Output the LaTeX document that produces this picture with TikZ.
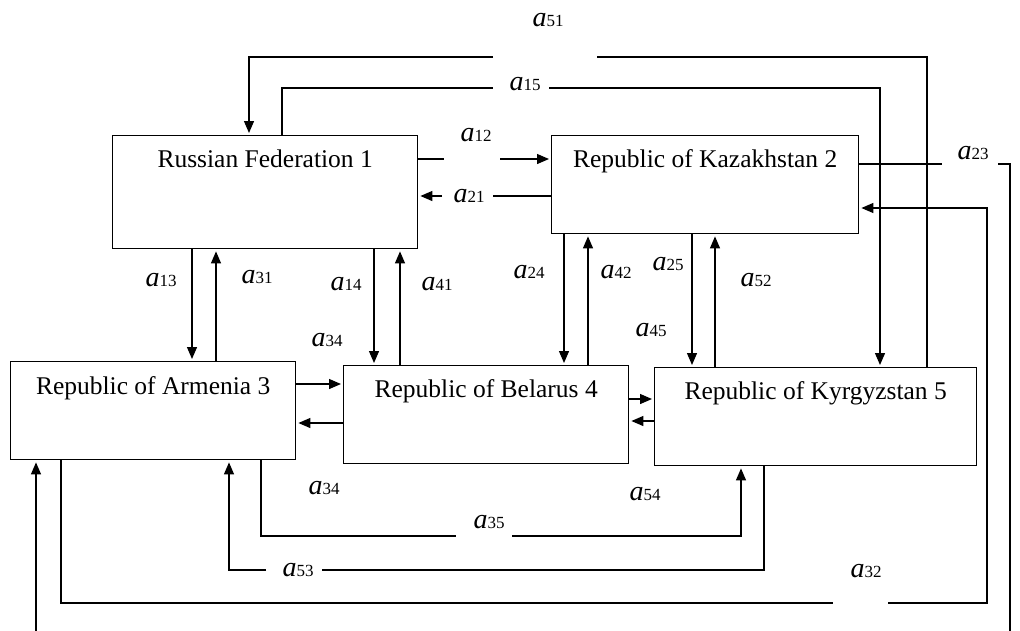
\documentclass[tikz,border=0pt]{standalone}
\usepackage{fontspec}
\setmainfont{Liberation Serif}
\usetikzlibrary{arrows.meta}

% coefficient a_{ij}
\newcommand{\acoef}[1]{{\fontsize{28}{32}\selectfont\itshape a}{\fontsize{17}{18}\selectfont #1}}

\tikzset{
    % Country block (text sits in the upper part)
    country/.style={
        rectangle,
        draw,
        line width=1.4pt,
        inner sep=0pt,
        anchor=north west,
        text height=32pt,
        font=\fontsize{25.5}{30}\selectfont
    },
    % Connector styles
    wire/.style={line width=1.3pt},
    flow/.style={wire, -{Triangle[length=12pt, width=10pt]}, shorten >=2pt},
    % Coefficient labels
    coef/.style={inner sep=0pt}
}

\begin{document}
\begin{tikzpicture}[x=1pt, y=-1pt]

    \useasboundingbox (0,0) rectangle (1020,630);

    % --- COUNTRIES ---
    \node (RF) [country, minimum width=305pt, text depth=81pt] at (112,135) {Russian Federation 1};
    \node (KZ) [country, minimum width=307pt, text depth=66pt] at (551,135) {Republic of Kazakhstan 2};
    \node (AM) [country, minimum width=285pt, text depth=65pt, text height=33pt] at (10,361) {Republic of Armenia 3};
    \node (BY) [country, minimum width=285pt, text depth=66pt] at (343,365) {Republic of Belarus 4};
    \node (KG) [country, minimum width=322pt, text depth=66pt] at (654,367) {Republic of Kyrgyzstan 5};

    % --- Helper coordinates (columns, rows, gaps, corners) ---
    \coordinate (x13) at (192,0);
    \coordinate (x31) at (216,0);
    \coordinate (x14) at (374,0);
    \coordinate (x41) at (400,0);
    \coordinate (x24) at (564,0);
    \coordinate (x42) at (588,0);
    \coordinate (x25) at (692,0);
    \coordinate (x52) at (715,0);
    \coordinate (y34) at (0,384);
    \coordinate (y43) at (0,423);
    \coordinate (y45) at (0,399);
    \coordinate (y54) at (0,421);

    \coordinate (g12l) at (444,159);
    \coordinate (g12r) at (500,159);
    \coordinate (g21r) at (493,196);
    \coordinate (g21l) at (442,196);

    \coordinate (t51r) at (927,57);
    \coordinate (g51r) at (597,57);
    \coordinate (g51l) at (493,57);
    \coordinate (t51l) at (249,57);

    \coordinate (t15l) at (282,88);
    \coordinate (g15l) at (493,88);
    \coordinate (g15r) at (549,88);
    \coordinate (t15r) at (880,88);

    \coordinate (g23l) at (942,164);
    \coordinate (g23r) at (998,164);
    \coordinate (r23)  at (1010,164);
    \coordinate (b23r) at (1010,645);
    \coordinate (b23l) at (36,645);

    \coordinate (b32l) at (61,603);
    \coordinate (g32l) at (833,603);
    \coordinate (g32r) at (888,603);
    \coordinate (b32r) at (987,603);
    \coordinate (r32)  at (987,208);

    \coordinate (b35l) at (261,536);
    \coordinate (g35l) at (456,536);
    \coordinate (g35r) at (512,536);
    \coordinate (b35r) at (741,536);

    \coordinate (b53r) at (764,570);
    \coordinate (g53r) at (322,570);
    \coordinate (g53l) at (266,570);
    \coordinate (b53l) at (229,570);

    % --- Arrows between neighbours ---
    \draw [wire] (RF.east |- g12l) -- (g12l);
    \draw [flow] (g12r) -- (KZ.west |- g12r);
    \draw [wire] (KZ.west |- g21r) -- (g21r);
    \draw [flow] (g21l) -- (RF.east |- g21l);

    \draw [flow] (RF.south -| x13) -- (AM.north -| x13);
    \draw [flow] (AM.north -| x31) -- (RF.south -| x31);
    \draw [flow] (RF.south -| x14) -- (BY.north -| x14);
    \draw [flow] (BY.north -| x41) -- (RF.south -| x41);
    \draw [flow] (KZ.south -| x24) -- (BY.north -| x24);
    \draw [flow] (BY.north -| x42) -- (KZ.south -| x42);
    \draw [flow] (KZ.south -| x25) -- (KG.north -| x25);
    \draw [flow] (KG.north -| x52) -- (KZ.south -| x52);

    \draw [flow] (AM.east |- y34) -- (BY.west |- y34);
    \draw [flow] (BY.west |- y43) -- (AM.east |- y43);
    \draw [flow] (BY.east |- y45) -- (KG.west |- y45);
    \draw [flow] (KG.west |- y54) -- (BY.east |- y54);

    % --- Long loops over the top ---
    \draw [wire] (KG.north -| t51r) -- (t51r) -- (g51r);
    \draw [flow] (g51l) -- (t51l) -- (RF.north -| t51l);

    \draw [wire] (RF.north -| t15l) -- (t15l) -- (g15l);
    \draw [flow] (g15r) -- (t15r) -- (KG.north -| t15r);

    % --- Long loops round the right and the bottom ---
    \draw [wire] (KZ.east |- g23l) -- (g23l);
    \draw [flow] (g23r) -- (r23) -- (b23r) -- (b23l) -- (AM.south -| b23l);

    \draw [wire] (AM.south -| b32l) -- (b32l) -- (g32l);
    \draw [flow] (g32r) -- (b32r) -- (r32) -- (KZ.east |- r32);

    \draw [wire] (AM.south -| b35l) -- (b35l) -- (g35l);
    \draw [flow] (g35r) -- (b35r) -- (KG.south -| b35r);

    \draw [wire] (KG.south -| b53r) -- (b53r) -- (g53r);
    \draw [flow] (g53l) -- (b53l) -- (AM.south -| b53l);

    % --- Coefficients ---
    \node (l51) [coef] at (548,20)  {\acoef{51}};
    \node (l15) [coef] at (525,84)  {\acoef{15}};
    \node (l12) [coef] at (476,135) {\acoef{12}};
    \node (l21) [coef] at (469,196) {\acoef{21}};
    \node (l23) [coef] at (973,153) {\acoef{23}};
    \node (l13) [coef] at (161,280) {\acoef{13}};
    \node (l31) [coef] at (257,277) {\acoef{31}};
    \node (l14) [coef] at (346,284) {\acoef{14}};
    \node (l41) [coef] at (437,284) {\acoef{41}};
    \node (l34a) [coef] at (327,340) {\acoef{34}};
    \node (l24) [coef] at (529,272) {\acoef{24}};
    \node (l42) [coef] at (616,272) {\acoef{42}};
    \node (l25) [coef] at (668,264) {\acoef{25}};
    \node (l52) [coef] at (756,280) {\acoef{52}};
    \node (l45) [coef] at (651,330) {\acoef{45}};
    \node (l34b) [coef] at (324,488) {\acoef{34}};
    \node (l54) [coef] at (645,494) {\acoef{54}};
    \node (l35) [coef] at (489,522) {\acoef{35}};
    \node (l53) [coef] at (298,570) {\acoef{53}};
    \node (l32) [coef] at (866,571) {\acoef{32}};

\end{tikzpicture}
\end{document}
